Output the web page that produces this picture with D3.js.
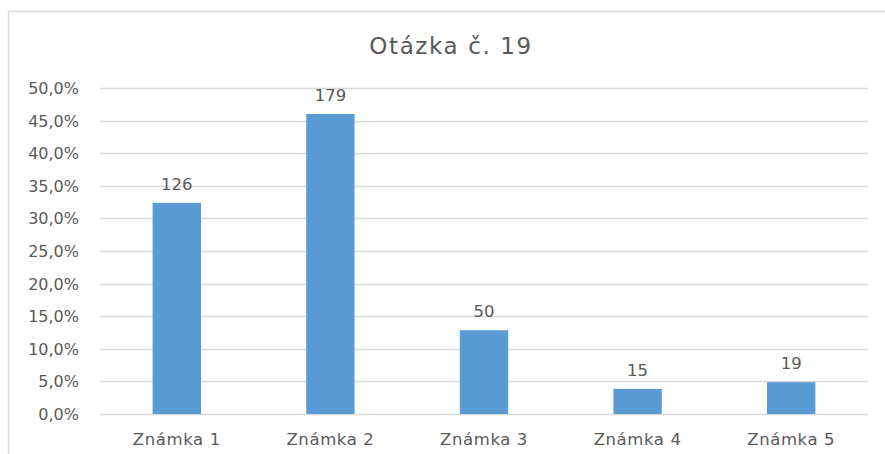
<!DOCTYPE html>
<html>
<head>
<meta charset="utf-8">
<script src="https://cdn.jsdelivr.net/npm/d3@7"></script>
<style>
  html, body { margin: 0; padding: 0; background: #fff; }
  svg { display: block; }
  text { font-family: "DejaVu Sans", sans-serif; fill: #595959; }
</style>
</head>
<body>
<svg id="chart" width="885" height="454"></svg>
<script>
const title = "Otázka č. 19";
const categories = ["Známka 1", "Známka 2", "Známka 3", "Známka 4", "Známka 5"];
const counts = [126, 179, 50, 15, 19];
const yTicks = [0, 0.05, 0.10, 0.15, 0.20, 0.25, 0.30, 0.35, 0.40, 0.45, 0.50];

const total = d3.sum(counts);
const shares = counts.map(c => c / total);

const W = 885, H = 454;
const margin = { left: 100, right: 17, top: 88, bottom: 40 };
const svg = d3.select("#chart");

// chart area border (left and top visible)
svg.append("line").attr("x1", 8.5).attr("x2", 8.5).attr("y1", 11).attr("y2", H)
  .attr("stroke", "#d9d9d9").attr("stroke-width", 1.5);
svg.append("line").attr("x1", 8).attr("x2", W).attr("y1", 11.5).attr("y2", 11.5)
  .attr("stroke", "#d9d9d9").attr("stroke-width", 1.5);

const x = d3.scaleBand().domain(categories)
  .range([margin.left, W - margin.right]).paddingInner(0.685).paddingOuter(0.3425);
const y = d3.scaleLinear().domain([0, 0.5]).range([414, 88]);

// gridlines
svg.append("g").selectAll("line").data(yTicks).join("line")
  .attr("x1", margin.left).attr("x2", W - margin.right)
  .attr("y1", d => Math.round(y(d)) + 0.5).attr("y2", d => Math.round(y(d)) + 0.5)
  .attr("stroke", "#d9d9d9").attr("stroke-width", 1.3);

// y axis labels
const fmt = d => d3.format(".1f")(d * 100).replace(".", ",") + "%";
svg.append("g").selectAll("text").data(yTicks).join("text")
  .attr("x", 79).attr("y", d => y(d) + 6)
  .attr("text-anchor", "end").attr("font-size", 16)
  .text(fmt);

// bars
svg.append("g").selectAll("rect").data(categories).join("rect")
  .attr("x", d => x(d)).attr("width", x.bandwidth())
  .attr("y", (d, i) => y(shares[i]))
  .attr("height", (d, i) => y(0) - y(shares[i]))
  .attr("fill", "#5b9bd5");

// data labels
svg.append("g").selectAll("text").data(categories).join("text")
  .attr("x", d => x(d) + x.bandwidth() / 2)
  .attr("y", (d, i) => y(shares[i]) - 13)
  .attr("text-anchor", "middle").attr("font-size", 16.5)
  .text((d, i) => counts[i]);

// category labels
svg.append("g").selectAll("text").data(categories).join("text")
  .attr("x", d => x(d) + x.bandwidth() / 2)
  .attr("y", 445)
  .attr("text-anchor", "middle").attr("font-size", 16.5).attr("letter-spacing", 0.6)
  .text(d => d);

// title
svg.append("text").attr("x", 451).attr("y", 54)
  .attr("text-anchor", "middle").attr("font-size", 23).attr("letter-spacing", 1.6)
  .text(title);
</script>
</body>
</html>
